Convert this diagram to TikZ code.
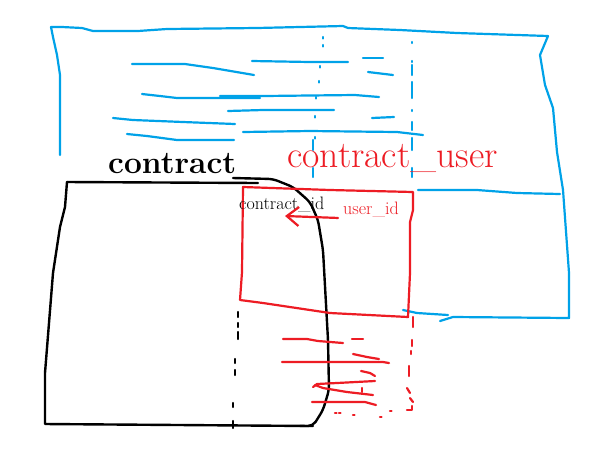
\documentclass[tikz,border=0pt]{standalone}
\usepackage{xcolor}
\usepackage{tikz}
\usetikzlibrary{arrows.meta}
\definecolor{paintblue}{RGB}{0,162,232}
\definecolor{paintred}{RGB}{237,28,36}

\begin{document}
\begin{tikzpicture}[
    % Pixel grid, y grows downward
    x=1pt, y=-1pt,
    % Blue pen (big table behind)
    bluepen/.style = {draw=paintblue, line width=2.2pt, line cap=round, line join=round},
    % Black pen (contract)
    blackpen/.style = {draw=black, line width=2.4pt, line cap=round, line join=round},
    % Red pen (contract_user)
    redpen/.style = {draw=paintred, line width=2.2pt, line cap=round, line join=round},
    % Table names
    tabletitle/.style = {anchor=base west, inner sep=0pt, font=\fontsize{31.7}{36}\selectfont\bfseries},
    redtitle/.style = {anchor=base west, inner sep=0pt, text=paintred, font=\fontsize{37.6}{42}\selectfont},
    % Column names
    column/.style = {anchor=base west, inner sep=0pt, font=\fontsize{18}{20}\selectfont}
]
    \path[use as bounding box, fill=white] (0,0) rectangle (604,475);

    % --- BLUE TABLE ---
    \draw[bluepen] (60,155) -- (60,75) -- (57,55) -- (53,37) -- (51,27) -- (62,27) -- (82,28)
        -- (93,31) -- (138,31) -- (167,29) -- (257,28) -- (343,26) -- (348,28) -- (400,30)
        -- (457,33) -- (548,36) -- (540,55) -- (545,85) -- (553,108) -- (557,152) -- (563,190)
        -- (569,273) -- (569,318) -- (453,317) -- (440,321);
    \draw[bluepen] (403,310) -- (417,313) -- (448,315);
    \draw[bluepen] (418,190) -- (477,190) -- (517,193) -- (560,194);

    % rows
    \draw[bluepen] (132,64) -- (185,64) -- (213,68) -- (254,75);
    \draw[bluepen] (252,61) -- (310,62) -- (348,62);
    \draw[bluepen] (363,58) -- (383,58);
    \draw[bluepen] (368,72) -- (393,75);
    \draw[bluepen] (142,94) -- (160,96) -- (177,98) -- (260,98);
    \draw[bluepen] (220,96) -- (264,96) -- (355,95) -- (379,97);
    \draw[bluepen] (228,111) -- (263,110) -- (334,110);
    \draw[bluepen] (113,118) -- (133,120) -- (183,122) -- (235,124);
    \draw[bluepen] (372,118) -- (394,117);
    \draw[bluepen] (127,134) -- (147,136) -- (177,140) -- (234,140);
    \draw[bluepen] (243,132) -- (310,131) -- (397,132) -- (423,135);

    % dotted column lines
    \foreach \px/\py in {323/37, 323/45, 320/66, 319/81, 316/97, 315/116, 315/137}
        \draw[bluepen] (\px,\py) -- ++(0,1.5);
    \draw[bluepen] (313,140) -- (313,150);
    \draw[bluepen] (313,168) -- (313,177);
    \foreach \ya/\yb in {42/43, 61/62, 65/75, 82/98, 110/111, 122/130, 138/150, 168/177}
        \draw[bluepen] (412,\ya) -- (412,\yb);

    % --- CONTRACT (black) ---
    \draw[blackpen] (67,182) -- (258,183);
    \draw[blackpen] (313,426) -- (45,424) -- (45,373) -- (53,273) -- (60,227) -- (65,207) -- (67,182);
    \draw[blackpen, rounded corners=5pt] (233,178) -- (273,179) -- (293,187) -- (310,202)
        -- (318,220) -- (323,250) -- (328,340) -- (329,390) -- (323,410) -- (313,426) -- (300,426);
    \foreach \px/\ya/\yb in {238/312/317, 238/323/327, 238/332/339, 235/359/363, 235/370/375, 233/403/407, 233/421/428}
        \draw[blackpen] (\px,\ya) -- (\px,\yb);

    % --- CONTRACT_USER (red) ---
    \draw[redpen] (243,187) -- (330,190) -- (413,192) -- (413,210) -- (410,222) -- (410,273)
        -- (408,317) -- (330,313) -- (263,303) -- (240,300) -- (242,272) -- cycle;
    \foreach \ya/\yb/\xa/\xb in {317/327/413/413, 340/346/412/412, 351/354/411/411, 366/376/409/409, 388/393/407/410, 398/402/410/413}
        \draw[redpen] (\xa,\ya) -- (\xb,\yb);
    \draw[redpen] (412,406) -- (412,410) -- (407,410);

    % rows
    \draw[redpen] (283,339) -- (307,339) -- (318,341) -- (343,343);
    \draw[redpen] (352,339) -- (363,339);
    \draw[redpen] (282,362) -- (383,362) -- (389,363);
    \draw[redpen] (353,354) -- (367,357) -- (379,359);
    \draw[redpen] (361,371) -- (370,373) -- (375,376);
    \draw[redpen] (313,387) -- (317,384) -- (337,383) -- (375,381);
    \draw[redpen] (315,385) -- (323,388) -- (347,392) -- (373,395);
    \draw[redpen] (362,388) -- (362,392);
    \draw[redpen] (312,402) -- (365,402) -- (376,405);
    \foreach \px/\py in {335/413, 339/413, 353/415, 380/417, 390/411}
        \draw[redpen] (\px,\py) -- ++(1.5,0);

    % --- TEXTS ---
    \node[tabletitle] (contract) at (108,173) {contract};
    \node[redtitle] (cuser) at (287,167) {contract\_user};
    \node[column] (cid) at (239,209) {contract\_id};
    \node[column, text=paintred] (uid) at (343,214) {user\_id};

    % user_id points to contract_id
    \coordinate (idtip) at (285,216);
    \draw[redpen, -{Straight Barb[length=12pt, width=19pt]}] ([shift={(-5,9)}]uid.west) -- (idtip);

\end{tikzpicture}
\end{document}
